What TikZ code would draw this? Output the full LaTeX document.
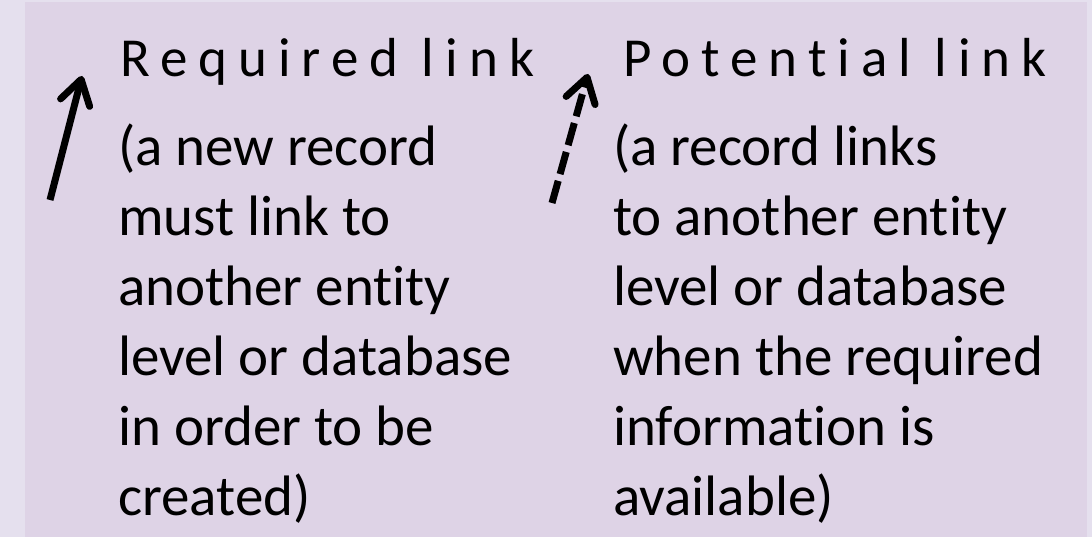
\documentclass[tikz,border=0pt]{standalone}
\usepackage{fontspec}
\setmainfont[Ligatures=NoCommon]{Carlito}
\newfontfamily\headfont[LetterSpace=20, Ligatures=NoCommon]{Carlito}
\usetikzlibrary{arrows.meta}

\definecolor{outerbg}{HTML}{E5E0EE}
\definecolor{innerbg}{HTML}{DED3E6}

\tikzset{
  heading/.style={anchor=base west, inner sep=0pt, font=\headfont\fontsize{55}{60}\selectfont},
  legendtext/.style={anchor=base west, inner sep=0pt, align=left, font=\fontsize{57}{70}\selectfont},
  linkarrow/.style={line width=7pt, -{Straight Barb[length=24pt, width=30pt, round]}},
}

\begin{document}
\begin{tikzpicture}[x=1pt, y=-1pt]

  % background
  \fill[outerbg] (0,0) rectangle (1092,537);
  \fill[innerbg] (25,2) rectangle (1087,537);
  \useasboundingbox (0,0) rectangle (1092,537);

  % required link
  \coordinate (reqtail) at (50,200);
  \coordinate (reqtip) at (82,76);
  \draw[linkarrow] (reqtail) -- (reqtip);
  \node[heading] (reqhead) at (120,77) {Required link};
  % base anchor sits on the last line
  \node[legendtext] (reqtext) at (118,515) {(a new record\\must link to\\another entity\\level or database\\in order to be\\created)};

  % potential link
  \coordinate (pottail) at (552,203);
  \coordinate (pottip) at (588,74);
  \draw[linkarrow, dash pattern=on 23pt off 7pt] (pottail) -- (pottip);
  \node[heading] (pothead) at (623,77) {Potential link};
  \node[legendtext] (pottext) at (613,515) {(a record links\\to another entity\\level or database\\when the required\\information is\\available)};

\end{tikzpicture}
\end{document}
